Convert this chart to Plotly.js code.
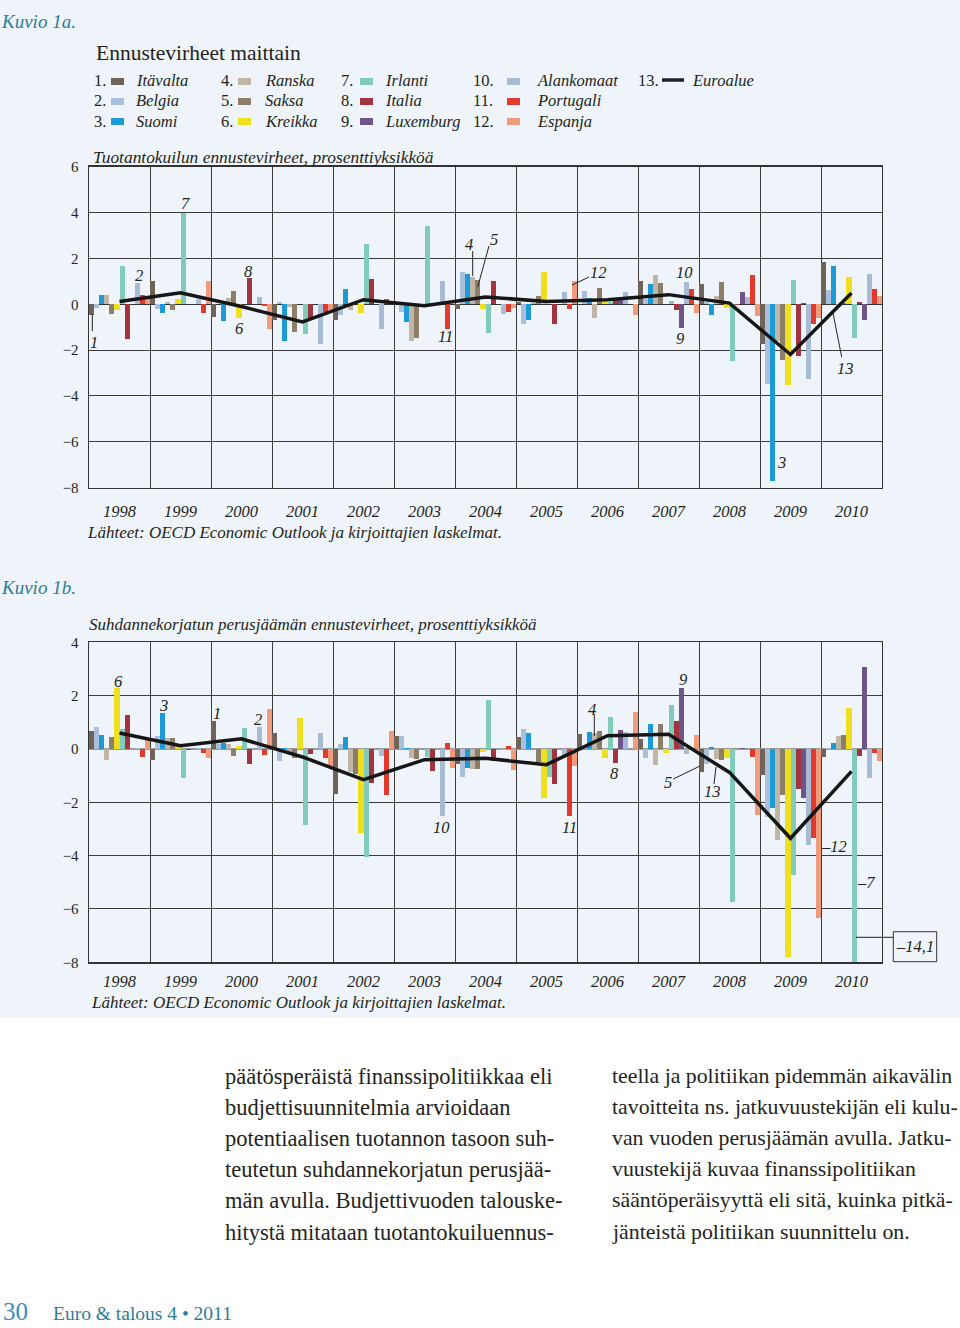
<!DOCTYPE html>
<html><head><meta charset="utf-8">
<script src="https://cdn.plot.ly/plotly-3.0.1.min.js"></script>
<style>html,body{margin:0;padding:0;background:#fff}#chart{width:960px;height:1328px}</style>
</head><body><div id="chart"></div>
<script>
// ---------- DATA ----------
const years = [1998,1999,2000,2001,2002,2003,2004,2005,2006,2007,2008,2009,2010];
const yearLabels = ['1998','1999','2000','2001','2002','2003','2004','2005','2006','2007','2008','2009','2010'];
const countries = ['Itävalta','Belgia','Suomi','Ranska','Saksa','Kreikka','Irlanti','Italia','Luxemburg','Alankomaat','Portugali','Espanja'];
const euroName = 'Euroalue';
const colors = ['#6f6457','#aabfdb','#1c9ad6','#c0b6a6','#8d7e69','#f0df1f','#80cbb9','#a3333f','#6f5489','#a8bbd5','#e23b2d','#ef9b7c'];
const euroColor = '#161616';

// Kuvio 1a: Tuotantokuilun ennustevirheet (prosenttiyksikköä)
const gapAT = [-0.48, 1.00,-0.55,-0.70,-0.67, 0.05,-0.20, 0.10, 0.03, 1.03, 0.90,-1.74, 1.86];
const gapBE = [-0.16,-0.22, 0.03, 0.09,-0.45,-0.33, 1.39,-0.84, 0.58, 0.23, 0.08,-3.48, 0.64];
const gapFI = [ 0.42,-0.38,-0.74,-1.60, 0.68,-0.77, 1.32,-0.67, 0.29, 0.87,-0.45,-7.69, 1.67];
const gapFR = [ 0.39, 0.12, 0.29,-0.10,-0.23,-1.60, 1.19, 0.05,-0.58, 1.29, 0.35,-1.60,-0.13];
const gapDE = [-0.41,-0.26, 0.57,-1.22, 0.05,-1.47, 1.05, 0.38, 0.73, 0.93, 0.96,-2.44, 0.05];
const gapEL = [-0.23, 0.25,-0.62, 0.00,-0.36, 0.00,-0.22, 1.41, 0.12, 0.00,-0.15,-3.50, 1.20];
const gapIE = [ 1.68, 3.98, 0.00,-1.31, 2.64, 3.43,-1.25, 0.00, 0.10, 0.13,-2.47, 1.04,-1.47];
const gapIT = [-1.52, 0.00, 1.15,-0.62, 1.09, 0.00, 1.03,-0.86, 0.25,-0.26,-0.05,-2.26, 0.10];
const gapLU = [ 0.00, 0.00, 0.00, 0.00, 0.00, 0.00, 0.00, 0.00, 0.25,-1.03, 0.54, 0.06,-0.67];
const gapNL = [ 0.94, 0.25, 0.33,-1.74,-1.09, 1.02,-0.41, 0.55, 0.54, 0.99, 0.32,-3.27, 1.32];
const gapPT = [ 0.42,-0.36,-0.07,-0.33, 0.23,-1.10,-0.33,-0.20, 0.00, 0.68, 1.28,-0.87, 0.65];
const gapES = [ 0.32, 1.00,-1.06,-0.26, 0.05, 0.00,-0.16, 1.00,-0.48,-0.38,-0.52,-0.58, 0.35];
const gapEuro = [0.12, 0.50,-0.10,-0.77, 0.20,-0.06, 0.32, 0.12, 0.20, 0.42, 0.05,-2.19, 0.49];

// Kuvio 1b: Suhdannekorjatun perusjäämän ennustevirheet (prosenttiyksikköä)
const balAT = [ 0.69,-0.40, 1.06, 0.60,-1.69, 0.47,-0.56, 0.46, 0.56, 0.38,-0.88,-0.98,-0.31];
const balBE = [ 0.84, 0.48, 0.19,-0.46, 0.19, 0.47,-1.06, 0.73, 0.05,-0.35,-0.56,-2.56, 0.05];
const balFI = [ 0.53, 1.36, 0.22, 0.05, 0.45, 0.05,-0.72, 0.60, 0.63, 0.93, 0.06,-2.21, 0.21];
const balFR = [-0.40, 0.40, 0.19,-0.10,-0.88,-0.35,-0.75, 0.00, 0.60,-0.60,-0.38,-3.40, 0.50];
const balDE = [ 0.44, 0.40,-0.25,-0.35,-0.94,-0.38,-0.75,-0.50, 0.69, 0.94,-0.40,-1.73, 0.54];
const balEL = [ 2.30, 0.12, 0.10, 1.16,-3.16, 0.00,-0.10,-1.85,-0.35,-0.15,-0.34,-7.81, 1.54];
const balIE = [ 0.73,-1.10, 0.78,-2.84,-4.04,-0.31, 1.85,-1.04, 1.18, 1.63,-5.73,-4.71,-14.1];
const balIT = [ 1.28,-0.05,-0.56,-0.20,-1.28,-0.81,-0.44,-1.31,-0.53, 1.05, 0.00,-1.50,-0.25];
const balLU = [ 0.00, 0.00, 0.00, 0.00, 0.00, 0.00, 0.00, 0.00, 0.70, 2.28, 0.03,-1.84, 3.06];
const balNL = [ 0.05, 0.05, 0.81, 0.61,-0.28,-2.50,-0.05,-0.25, 0.63,-0.19, 0.00,-3.59,-1.09];
const balPT = [-0.31,-0.15,-0.21,-0.34,-1.73, 0.21, 0.10,-2.50, 0.00, 0.05,-0.31,-3.33,-0.15];
const balES = [ 0.35,-0.35, 1.48,-0.63, 0.69,-0.71,-0.78,-0.65, 1.38, 0.53,-2.46,-6.33,-0.44];
const balEuro = [0.60, 0.12, 0.38,-0.30,-1.15,-0.40,-0.35,-0.59, 0.50, 0.55,-0.88,-3.35,-0.84];

const gapSeries = [gapAT,gapBE,gapFI,gapFR,gapDE,gapEL,gapIE,gapIT,gapLU,gapNL,gapPT,gapES];
const balSeries = [balAT,balBE,balFI,balFR,balDE,balEL,balIE,balIT,balLU,balNL,balPT,balES];
const yTicks1 = [6,4,2,0,-2,-4,-6,-8];
const yTicks2 = [4,2,0,-2,-4,-6,-8];

// ---------- BUILD ----------
const W = 960, H = 1328;
const px = x => x / W;
const py = y => 1 - y / H;
const SERIF = 'Liberation Serif, DejaVu Serif, serif';
const INK = '#231f20';
const halfYears = years.map(y => y - 0.5).concat([years[years.length-1] + 0.5]);
const fmt = v => (v < 0 ? '\u2212' + Math.abs(v) : String(v));

const traces = [];
gapSeries.forEach((s, i) => traces.push({type:'bar', x: years, y: s, name: countries[i], xaxis:'x', yaxis:'y',
  marker:{color: colors[i], line:{width:0}}, showlegend:false}));
traces.push({type:'scatter', mode:'lines', x: years, y: gapEuro, name: euroName, xaxis:'x', yaxis:'y',
  line:{color: euroColor, width:3.5}, showlegend:false});
balSeries.forEach((s, i) => traces.push({type:'bar', x: years, y: s, name: countries[i], xaxis:'x2', yaxis:'y2',
  marker:{color: colors[i], line:{width:0}}, showlegend:false}));
traces.push({type:'scatter', mode:'lines', x: years, y: balEuro, name: euroName, xaxis:'x2', yaxis:'y2',
  line:{color: euroColor, width:3.5}, showlegend:false});

function xAxis(anchor, ticklen) {
  return {domain:[px(89), px(882)], anchor: anchor, range:[1997.5, 2010.5],
    tickmode:'array', tickvals: years, ticktext: yearLabels,
    tickfont:{family: SERIF, size:16.5, color: INK, style:'italic'},
    ticks:'outside', ticklen: ticklen, tickcolor:'rgba(0,0,0,0)',
    showgrid:false, zeroline:false,
    minor:{tickvals: halfYears, showgrid:true, gridcolor:'#3c3c3c', gridwidth:1, ticks:''},
    showline:true, mirror:true, linecolor:'#333', linewidth:1.4, fixedrange:true};
}
function yAxis(anchor, dom, range, tv, zc, zw) {
  return {domain: dom, anchor: anchor, range: range, tickmode:'array', tickvals: tv, ticktext: tv.map(fmt),
    tickfont:{family: SERIF, size:15, color: INK},
    ticks:'outside', ticklen:6, tickcolor:'rgba(0,0,0,0)',
    showgrid:true, gridcolor:'#3c3c3c', gridwidth:1,
    zeroline:true, zerolinecolor: zc, zerolinewidth: zw,
    showline:true, mirror:true, linecolor:'#333', linewidth:1.4, fixedrange:true};
}

const ann = [];
function T(x, y, text, size, o) {
  o = o || {};
  ann.push({xref:'paper', yref:'paper', x: px(x), y: py(y), text: text, showarrow:false,
    xanchor: o.xa || 'left', yanchor:'middle', borderpad: 0,
    font:{family: SERIF, size: size, color: o.color || INK, style: o.italic ? 'italic' : 'normal'}});
}
const shapes = [];
function L(x0, y0, x1, y1, w) {
  shapes.push({type:'line', xref:'paper', yref:'paper', x0:px(x0), y0:py(y0), x1:px(x1), y1:py(y1),
    line:{color:'#222', width: w || 1}});
}
// page background
shapes.push({type:'rect', xref:'paper', yref:'paper', x0:0, x1:1, y0:py(1018), y1:1,
  fillcolor:'#eff4fa', line:{width:0}, layer:'below'});

// headings
const TEAL = '#2b7d99';
T(0, 22, 'Kuvio 1a.', 19, {italic:true, color: TEAL});
T(95, 53, 'Ennustevirheet maittain', 21.5);
// legend
const legCols = [[93,111,135],[220,238,264],[340,360,384],[472,507,536]];
const legRows = [81,101,121];
countries.forEach((c, i) => {
  const col = legCols[Math.floor(i/3)], r = legRows[i%3];
  T(col[0], r, (i+1) + '.', 16.5);
  shapes.push({type:'rect', xref:'paper', yref:'paper', x0:px(col[1]), x1:px(col[1]+13), y0:py(r+4), y1:py(r-3),
    fillcolor: colors[i], line:{width:0}});
  T(col[2], r, c, 16.5, {italic:true});
});
T(637, 81, '13.', 16.5);
L(662, 80, 684, 80, 3.5);
T(691, 81, euroName, 16.5, {italic:true});

// chart 1a texts
T(92, 157, 'Tuotantokuilun ennustevirheet, prosenttiyksikköä', 17.4, {italic:true});
T(86, 532, 'Lähteet: OECD Economic Outlook ja kirjoittajien laskelmat.', 17, {italic:true});
const lab1 = [['7',185,203],['2',138.5,275],['8',248,271],['6',239.5,329],['1',93.5,342],['11',445,337],
  ['4',468.5,245],['5',493.5,239],['12',598,272],['10',684,272],['9',680,338],['3',781,462],['13',845,368]];
lab1.forEach(a => T(a[1], a[2], a[0], 16.5, {italic:true, xa:'center'}));
L(92.3, 314, 92.3, 331);
L(472.7, 251, 472.7, 276);
L(489, 246, 477.7, 287);
L(589, 277, 572, 285);
L(841.7, 357, 833, 313);

// chart 1b texts
T(0, 587, 'Kuvio 1b.', 19, {italic:true, color: TEAL});
T(88, 624, 'Suhdannekorjatun perusjäämän ennustevirheet, prosenttiyksikköä', 17, {italic:true});
T(90, 1003, 'Lähteet: OECD Economic Outlook ja kirjoittajien laskelmat.', 17, {italic:true});
const lab2 = [['6',118,682],['3',163,706],['1',217,713],['2',258,719],['10',441.5,827],['11',569,827],
  ['4',592,709],['8',614,773],['9',682.5,679],['5',668,782],['13',712,791]];
lab2.forEach(a => T(a[1], a[2], a[0], 16.5, {italic:true, xa:'center'}));
T(820, 846, '\u201312', 16.5, {italic:true});
T(856, 882, '\u20137', 16.5, {italic:true});
L(594.3, 714, 594.3, 736);
L(673.3, 779, 700, 766);
L(714, 784, 716, 767);
L(856, 937.3, 893.3, 937.3);
shapes.push({type:'rect', xref:'paper', yref:'paper', x0:px(893.3), x1:px(936.7), y0:py(961.7), y1:py(931.7),
  line:{color:'#333', width:1}, fillcolor:'rgba(0,0,0,0)'});
T(915, 946, '\u201314,1', 16.5, {italic:true, xa:'center'});

// body text
const col1 = ['päätösperäistä finanssipolitiikkaa eli','budjettisuunnitelmia arvioidaan',
  'potentiaalisen tuotannon tasoon suh-','teutetun suhdannekorjatun perusjää-',
  'män avulla. Budjettivuoden talouske-','hitystä mitataan tuotantokuiluennus-'];
const col2 = ['teella ja politiikan pidemmän aikavälin','tavoitteita ns. jatkuvuustekijän eli kulu-',
  'van vuoden perusjäämän avulla. Jatku-','vuustekijä kuvaa finanssipolitiikan',
  'sääntöperäisyyttä eli sitä, kuinka pitkä-','jänteistä politiikan suunnittelu on.'];
const lineY = [1076,1107,1138,1169,1200,1232];
col1.forEach((t, i) => T(224, lineY[i], t, 22.5));
col2.forEach((t, i) => T(611, lineY[i], t, 21.8));
T(2, 1311, '30', 25, {color:'#3a8cc4'});
T(52, 1313, 'Euro &amp; talous 4 \u2022 2011', 19.5, {color: TEAL});

const layout = {
  width: W, height: H, margin:{l:0, r:0, t:0, b:0, pad:0},
  paper_bgcolor:'#ffffff', plot_bgcolor:'rgba(0,0,0,0)',
  barmode:'group', bargap:0, bargroupgap:0, showlegend:false,
  xaxis: xAxis('y', 8),
  yaxis: yAxis('x', [py(487.7), py(166.7)], [-8, 6], yTicks1, '#333', 1.4),
  xaxis2: xAxis('y2', 3),
  yaxis2: yAxis('x2', [py(962.3), py(642.3)], [-8, 4], yTicks2, '#9a9a9a', 2.2),
  annotations: ann, shapes: shapes, hovermode:false
};
Plotly.newPlot('chart', traces, layout, {staticPlot:true, displayModeBar:false});
</script></body></html>
